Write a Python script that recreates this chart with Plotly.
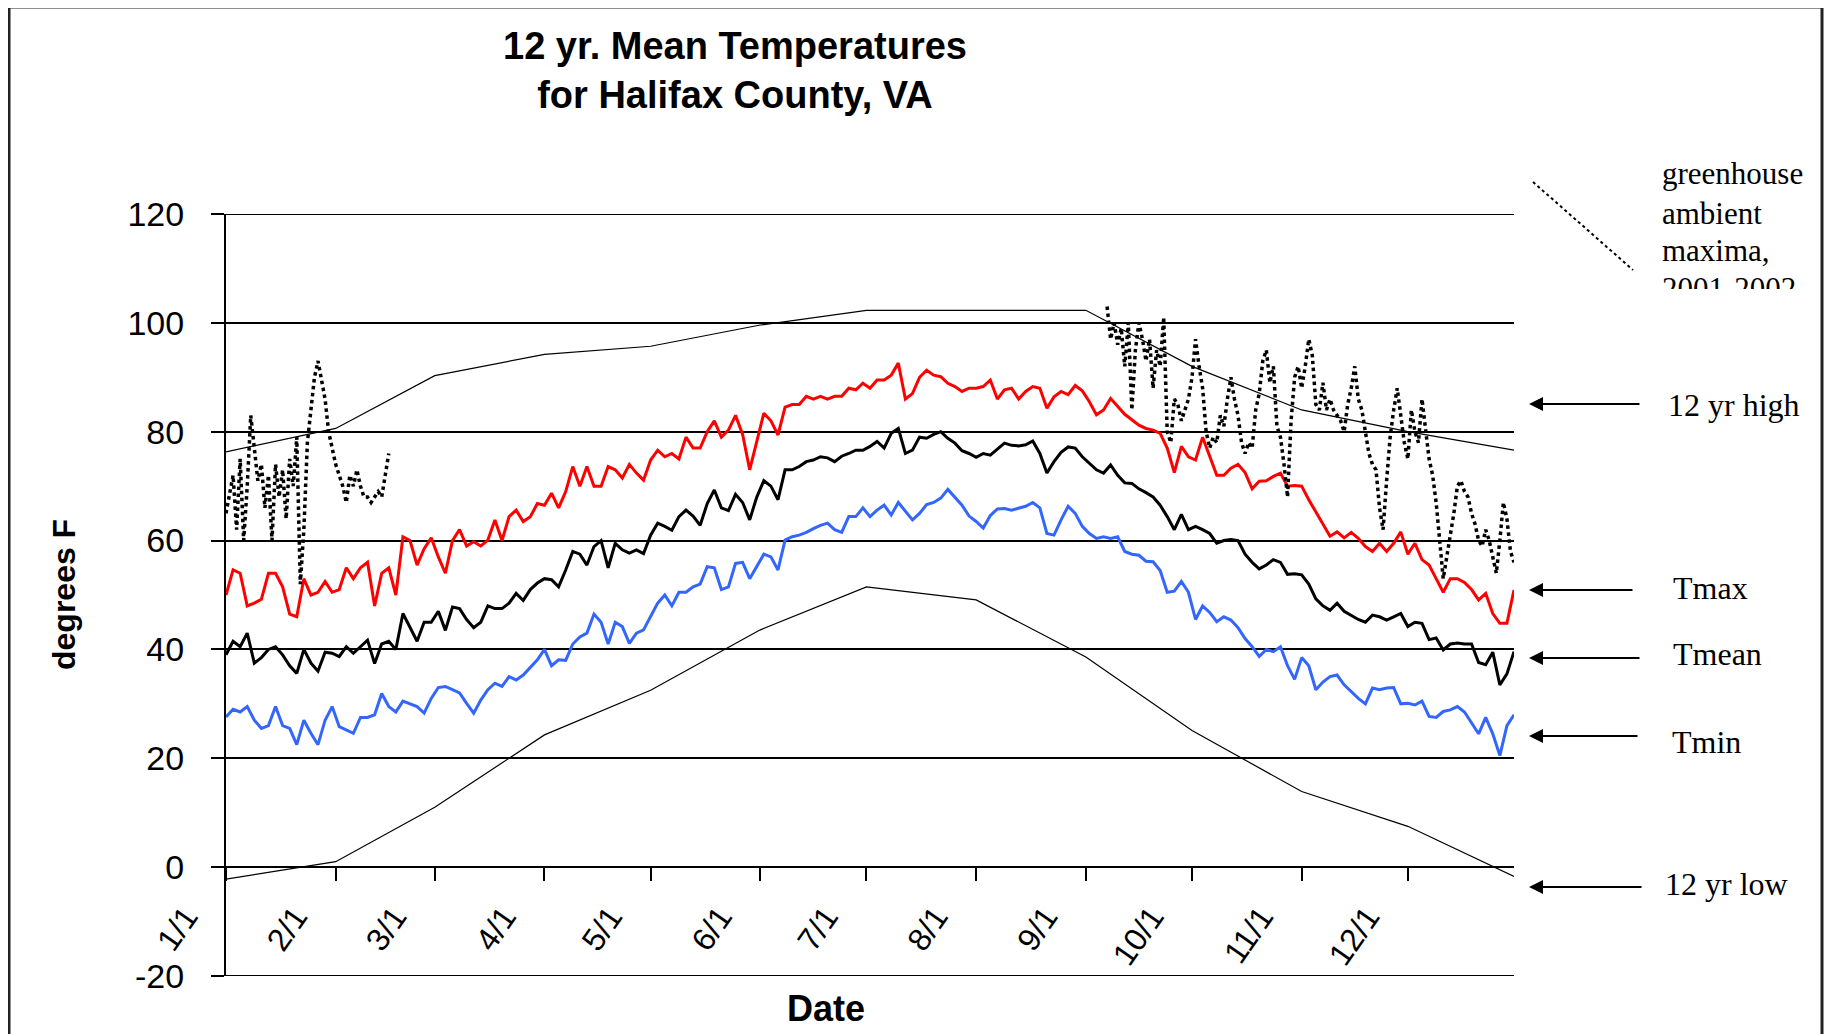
import plotly.graph_objects as go
import pandas as pd

W, H = 1832, 1034
OFF = 8                      # the page body margin (px) in which the figure sits
FW, FH = W - OFF, H - OFF    # figure size so that it fits the window exactly

# ---------------- DATA ----------------
# daily means sampled every 2nd day, 1/1 .. 12/31
dates2 = pd.date_range("2002-01-01", "2002-12-31", freq="2D")

tmax = [50, 54.6, 54, 48, 48.5, 49.2, 54, 54, 51.5, 46.5, 46, 53, 50, 50.5, 52.5, 50.5, 51, 55, 53, 55,
        56, 48, 54, 55, 50, 60.7, 60, 55.5, 58.5, 60.5, 57, 54, 60, 62, 59, 59.8, 59, 60.1, 63.8, 60,
        64.4, 65.6, 63.5, 64.4, 66.8, 66.5, 68.7, 66,
        69, 73.6, 70, 73.6, 70, 70, 73.6, 73, 71.5, 74, 72.4, 71.1, 74.8, 76.6, 75.4, 76, 75, 79, 77, 77,
        80, 82, 79, 80.3, 83, 79.5, 73, 78, 83.4, 82, 79.4, 84.5, 85, 85, 86.5, 86, 86.5, 86, 86.5, 86.5,
        88, 87.7, 88.9, 88, 89.5, 89.5,
        90.4, 92.6, 86, 87, 90, 91.3, 90.4, 90.1, 88.9, 88.3, 87.4, 88, 88, 88.3, 89.5, 86, 87.7, 88, 86,
        87.4, 88.3, 88, 84.3, 86.4, 87.4, 86.8, 88.5, 87.5, 85.5, 83.1, 84, 86.1, 84.6, 83.2, 82.2, 81.2,
        80.6, 80.3, 79.7, 77, 72.5, 77.3, 75.4, 74.8, 79, 75.4, 72,
        72, 73.3, 74, 72.5, 69.5, 70.9, 71, 71.8, 72.4, 70, 70.1, 70, 67.5, 65.3, 63, 60.8, 61.6, 60.5,
        61.5, 60.4, 58.9, 58, 59.5, 58, 59.5, 61.6, 57.5, 59.5, 56.5, 55.5, 53, 50.5, 53, 53, 52.3, 51,
        49.1, 50.3, 46.6, 44.8, 44.8, 50.9]

tmean = [39, 41.5, 40.5, 43, 37.5, 38.5, 40, 40.5, 39, 37, 35.6, 40, 37.5, 36, 39.5, 39.3, 38.7, 40.5,
         39.3, 40.5, 41.7, 37.4, 41, 41.5, 40, 46.6, 44, 41.5, 45, 45, 47, 43.5, 47.8, 47.5, 45.5, 44, 45,
         48, 47.5, 47.5, 48.5, 50.3, 49, 51, 52.2, 53, 52.8, 51.5,
         54.6, 58, 57.5, 55.5, 58.9, 60, 55, 59.5, 58.3, 57.7, 58.3, 57.6, 61, 63.2, 62.6, 61.9, 64.4,
         65.6, 64.5, 62.8, 66.8, 69.3, 66, 65.5, 68.5, 67, 63.8, 68, 71, 70, 67.5, 73, 73, 73.6, 74.5,
         74.8, 75.4, 75.2, 74.5, 75.5, 76, 76.6, 76.6, 77.3, 78.2, 77,
         79.7, 80.6, 76, 76.6, 79, 78.8, 79.5, 80, 78.8, 77.9, 76.5, 76, 75.3, 76, 75.7, 76.8, 77.9, 77.5,
         77.4, 77.6, 78.3, 76, 72.4, 74.5, 76.2, 77.2, 77, 75.4, 74.2, 73, 72.4, 73.9, 72, 70.6, 70.5,
         69.5, 68.8, 68, 66.5, 64.4, 62, 64.8, 62, 62.6, 62, 61.3, 59.5,
         60, 60.2, 60, 57.5, 56, 54.8, 55.5, 56.5, 56, 53.8, 53.9, 53.7, 52, 49.3, 48, 47.2, 48.5, 47,
         46.2, 45.5, 45, 46.3, 46, 45.4, 46, 46.6, 44.2, 45, 44.8, 41.8, 42.1, 39.9, 41, 41.2, 41, 41,
         37.6, 37.2, 39.5, 33.5, 35.5, 39.6]

tmin = [27.6, 29, 28.5, 29.5, 27, 25.5, 26, 29.5, 26, 25.5, 22.5, 27, 24.6, 22.5, 27, 29.5, 25.8, 25.2,
        24.6, 27.5, 27.5, 28, 31.9, 29.5, 28.5, 30.5, 30, 29.5, 28.3, 31, 33, 33.2, 32.6, 32, 30.1, 28.3,
        30.7, 32.6, 33.8, 33.2, 35, 34.4, 35.3, 36.8, 38.1, 40, 37, 38.1,
        38, 41, 42.3, 43, 46.5, 45, 41, 45, 44.2, 41.1, 43, 43.6, 46, 48.5, 50, 48, 50.5, 50.5, 51.5, 52,
        55.2, 55, 51, 51.5, 55.8, 56, 53, 55.2, 57.5, 57, 54.6, 60.1, 60.7, 61, 61.5, 62.2, 62.8, 63.2,
        62, 61.5, 64.4, 64.4, 66, 64.4, 65.6, 66.5,
        64.7, 67, 65.5, 63.8, 65, 66.6, 67, 67.8, 69.4, 67.9, 66.5, 64.5, 63.5, 62.3, 64.6, 65.8, 65.9,
        65.6, 66, 66.3, 67, 66, 61.3, 61, 63.8, 66.3, 65, 62.6, 61.3, 60.4, 60.7, 60.4, 60.7, 58, 57.5,
        57.3, 56.2, 56.1, 54.5, 50.5, 50.7, 52.5, 50.5, 45.5, 48, 46.8, 45.1,
        46, 45.4, 44, 42, 40.5, 38.7, 40, 39.6, 40.5, 37, 34.5, 38.5, 37, 32.6, 34, 35, 35.3, 33.5, 32.3,
        31, 30, 32.9, 32.6, 32.9, 33, 30, 30.1, 29.8, 30.5, 27.7, 27.5, 28.6, 28.9, 29.5, 28.5, 26.4,
        24.5, 27.5, 24.5, 20.5, 26, 28]

# greenhouse ambient maxima (daily), two recorded periods
gh_winter_dates = pd.date_range("2002-01-01", periods=47, freq="D")
gh_winter = [65, 69, 72, 62, 75, 60, 70, 83, 77, 71, 74, 66, 72, 60, 74, 68, 73, 64, 75, 70, 79, 52,
             62, 78, 84, 90, 93, 89, 86, 80, 77, 74, 72, 70, 67, 72, 70, 73, 70, 68, 68, 67, 68, 69,
             68, 72, 76]
gh_fall_dates = pd.date_range("2002-09-07", periods=116, freq="D")
gh_fall = [103, 97, 100, 96, 99, 92, 100, 84, 95, 100, 97, 93, 97, 88, 95, 92, 101, 80, 78, 86, 85, 82,
           84, 86, 90, 97, 92, 88, 80, 77, 79, 78, 83, 81, 86, 90, 86, 83, 78, 76, 78, 77, 84, 87, 93,
           95, 89, 92, 81, 79, 74, 68, 82, 90, 92, 88, 92, 97, 94, 85, 84, 89, 84, 86, 84, 83, 82, 80,
           85, 88, 92, 86, 84, 80, 76, 74, 73, 66, 62, 71, 79, 84, 88, 83, 78, 75, 84, 80, 78, 86, 80,
           75, 72, 67, 60, 53, 57, 61, 65, 70, 71, 69, 68, 65, 63, 60, 59, 62, 60, 57, 54, 60, 67, 64,
           58, 56]

# 12-year monthly extremes
month_dates = ["2002-01-01", "2002-02-01", "2002-03-01", "2002-04-01", "2002-05-01", "2002-06-01",
               "2002-07-01", "2002-08-01", "2002-09-01", "2002-10-01", "2002-11-01", "2002-12-01",
               "2002-12-31"]
high12 = [76.3, 80.6, 90.3, 94.2, 95.7, 99.6, 102.3, 102.3, 102.3, 92, 84, 80, 76.6]
low12 = [-2.2, 1, 11, 24.3, 32.5, 43.6, 51.5, 49.1, 38.6, 25.1, 13.9, 7.5, -1.7]

tick_dates = month_dates[:12]
tick_labels = ["1/1", "2/1", "3/1", "4/1", "5/1", "6/1", "7/1", "8/1", "9/1", "10/1", "11/1", "12/1"]
y_tickvals = [-20, 0, 20, 40, 60, 80, 100, 120]
y_ticktext = ["-20", "0", "20", "40", "60", "80", "100", "120"]
Y_MIN, Y_MAX = -20, 120

legend_lines = ["greenhouse", "ambient", "maxima,", "2001-2002"]

# ---------------- LAYOUT HELPERS ----------------
def px(x):
    return (x - OFF) / FW


def py(y):
    return 1 - (y - OFF) / FH


SANS = "Liberation Sans, Arial, sans-serif"
SERIF = "Liberation Serif, Times New Roman, serif"

y0p, y1p = py(976), py(214)

fig = go.Figure()

fig.add_trace(go.Scatter(x=month_dates, y=high12, mode="lines",
                         line=dict(color="black", width=1.2), hoverinfo="skip"))
fig.add_trace(go.Scatter(x=month_dates, y=low12, mode="lines",
                         line=dict(color="black", width=1.2), hoverinfo="skip"))
fig.add_trace(go.Scatter(x=dates2, y=tmin, mode="lines", line=dict(color="#3366FF", width=3)))
fig.add_trace(go.Scatter(x=dates2, y=tmean, mode="lines", line=dict(color="black", width=3)))
fig.add_trace(go.Scatter(x=dates2, y=tmax, mode="lines", line=dict(color="#FF0000", width=3)))
fig.add_trace(go.Scatter(x=gh_winter_dates, y=gh_winter, mode="lines",
                         line=dict(color="black", width=3.5, dash="dot")))
fig.add_trace(go.Scatter(x=gh_fall_dates, y=gh_fall, mode="lines",
                         line=dict(color="black", width=3.5, dash="dot")))

# legend text in a small clipped box (last line is cut off, as in the original);
# the helper axes of this box are in screen pixels
LEG_TOP, LEG_BOT, LEG_L, LEG_R = 150, 289, 1650, 1822
fig.add_trace(go.Scatter(x=[1662] * 4, y=[176, 216, 253, 291], mode="text", xaxis="x2", yaxis="y2",
                         text=legend_lines, textposition="middle right", cliponaxis=True,
                         textfont=dict(family=SERIF, size=31, color="black"), hoverinfo="skip"))

fig.update_layout(
    template="none",
    width=FW, height=FH,
    margin=dict(l=0, r=0, t=0, b=0, pad=0, autoexpand=False),
    paper_bgcolor="white", plot_bgcolor="white",
    showlegend=False,
    xaxis=dict(
        type="date", domain=[px(226), px(1514)],
        range=["2002-01-01", "2002-12-31"],
        anchor="free", position=y0p + (y1p - y0p) / 7,
        automargin=False,
        showgrid=False, zeroline=False, showline=False,
        ticks="outside", ticklen=13, tickwidth=1.5, tickcolor="black",
        tickmode="array", tickvals=tick_dates, ticktext=tick_labels,
        tickangle=-55, ticklabelshift=-40, ticklabelstandoff=4,
        tickfont=dict(family=SANS, size=32, color="black"),
    ),
    yaxis=dict(
        domain=[y0p, y1p], range=[Y_MIN, Y_MAX], automargin=False,
        tickmode="array", tickvals=y_tickvals, ticktext=y_ticktext,
        showgrid=True, gridcolor="black", gridwidth=2,
        zeroline=False, showline=True, linecolor="black", linewidth=2,
        ticks="outside", ticklen=13, tickwidth=2, tickcolor="black",
        ticklabelstandoff=20,
        tickfont=dict(family=SANS, size=34, color="black"),
    ),
    xaxis2=dict(domain=[px(LEG_L), px(LEG_R)], range=[LEG_L, LEG_R], visible=False, anchor="y2",
                automargin=False),
    yaxis2=dict(domain=[py(LEG_BOT), py(LEG_TOP)], range=[LEG_BOT, LEG_TOP], visible=False,
                anchor="x2", automargin=False),
)

annotations = [
    dict(text="12 yr. Mean Temperatures<br>for Halifax County, VA", x=px(735), y=py(71),
         xanchor="center", yanchor="middle",
         font=dict(family=SANS, size=38, color="black", weight="bold")),
    dict(text="Date", x=px(826), y=py(1008), xanchor="center", yanchor="middle",
         font=dict(family=SANS, size=36, color="black", weight="bold")),
    dict(text="degrees F", x=px(64), y=py(595), xanchor="center", yanchor="middle", textangle=-90,
         font=dict(family=SANS, size=32, color="black", weight="bold")),
]
labels = [("12 yr high", 1666, 405), ("Tmax", 1671, 588), ("Tmean", 1671, 654),
          ("Tmin", 1670, 742), ("12 yr low", 1663, 884)]
for t, lx, ly in labels:
    annotations.append(dict(text=t, x=px(lx), y=py(ly), xanchor="left", yanchor="middle",
                            showarrow=False, font=dict(family=SERIF, size=32, color="black")))
arrows = [(404, 1641), (590, 1634), (658, 1641), (736, 1639), (887, 1643)]
for ay_, tail in arrows:
    annotations.append(dict(text="", x=px(1529), y=py(ay_), ax=tail - 1529, ay=0,
                            showarrow=True, arrowhead=2, arrowsize=1.4, arrowwidth=2,
                            arrowcolor="black"))
for a in annotations:
    a.setdefault("showarrow", False)
    a["xref"] = "paper"
    a["yref"] = "paper"
fig.update_layout(annotations=annotations)

shapes = [
    dict(type="rect", xref="paper", yref="paper", x0=px(9), x1=px(1822), y0=-0.02, y1=py(7),
         line=dict(color="#222222", width=3), fillcolor="rgba(0,0,0,0)"),
    dict(type="line", xref="paper", yref="paper", x0=px(1533), y0=py(182), x1=px(1633), y1=py(270),
         line=dict(color="black", width=2, dash="dot")),
]
# gridlines at the two ends of the value range (plotly omits grid at the range edges)
for yv in (Y_MIN, Y_MAX):
    shapes.append(dict(type="line", xref="x domain", yref="y", x0=0, x1=1, y0=yv, y1=yv,
                       line=dict(color="black", width=2), layer="below"))
fig.update_layout(shapes=shapes)

fig.write_html("out.html")
